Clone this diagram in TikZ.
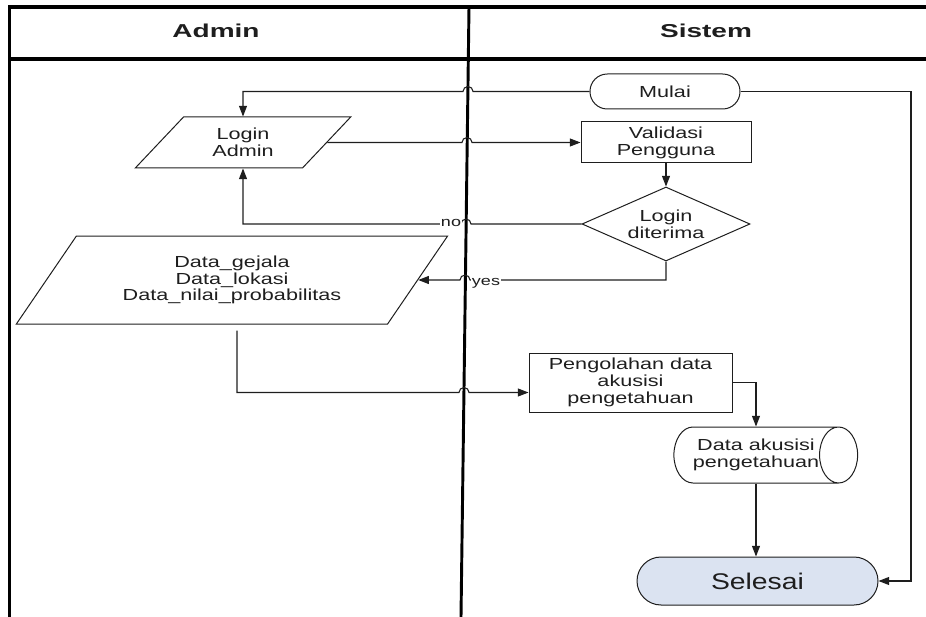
\documentclass[tikz,border=0pt]{standalone}
\usepackage{fontspec}
\setmainfont{Liberation Sans}
\newfontfamily\txtf[FakeStretch=1.35]{Liberation Sans}
\newfontfamily\hdrf[FakeStretch=1.5]{Liberation Sans}
\newfontfamily\self[FakeStretch=1.25]{Liberation Sans}
\usetikzlibrary{shapes.geometric,shapes.misc,arrows.meta,calc}
\definecolor{selfill}{RGB}{219,227,241}
\definecolor{ink}{RGB}{30,30,30}
\begin{document}
\begin{tikzpicture}[x=0.75pt,y=-0.75pt,
  conn/.style={line width=0.8pt, draw=ink},
  arr/.style={conn,-{Triangle[length=8pt,width=6pt]}},
  base/.style={draw=ink, line width=0.75pt, inner sep=0pt, align=center, text=ink,
    font=\txtf\fontsize{12}{12.6}\selectfont},
  term/.style={base, rectangle, rounded corners=13pt, minimum width=112.5pt, minimum height=26.25pt},
  proc/.style={base, rectangle},
  para/.style={base, trapezium, trapezium left angle=49, trapezium right angle=131, trapezium stretches=true},
  dec/.style={base, diamond, aspect=2.27, minimum width=126pt, minimum height=55.5pt},
  store/.style={base, cylinder, shape aspect=1.2, minimum height=136pt, minimum width=42pt},
  hdr/.style={font=\hdrf\bfseries\fontsize{14}{16}\selectfont, text=ink},
  lbl/.style={fill=white, inner sep=0.6pt, text=ink, font=\txtf\fontsize{10}{10}\selectfont}
]
\useasboundingbox (0,0) rectangle (926,617);
% swimlanes
\draw[line width=3pt] (8,7) -- (926,7);
\draw[line width=3pt] (8,59) -- (926,59);
\draw[line width=2pt] (9.5,5.5) -- (9.5,617);
\draw[line width=2.2pt] (469,7) -- (461,617);
\node[hdr] (hA) at (216,31) {Admin};
\node[hdr] (hS) at (706,31) {Sistem};
% nodes
\node[term] (mulai) at (665,91.5) {Mulai};
\node[para, minimum width=162pt, minimum height=38.25pt] (login) at (243,142.5) {Login\\Admin};
\node[proc, minimum width=127.5pt, minimum height=30.75pt] (valid) at (666,142.5) {Validasi\\Pengguna};
\node[dec] (dia) at (666,224) {Login\\diterima};
\node[para, minimum width=324pt, minimum height=66pt] (data) at (232,280) {Data\_gejala\\Data\_lokasi\\Data\_nilai\_probabilitas};
\node[proc, minimum width=152.25pt, minimum height=44.25pt] (olah) at (630.5,382.5) {Pengolahan data\\akusisi\\pengetahuan};
\node[store] (cyl) at (756,455) {Data akusisi\\pengetahuan};
\node[term, fill=selfill, minimum width=180.75pt, minimum height=36pt, rounded corners=18pt,
  font=\self\fontsize{17}{18}\selectfont] (sel) at (757.5,581) {Selesai};
\coordinate (cx) at (756,0);
\coordinate (olahin) at ($(olah.west)+(0,10)$);
% connectors
\draw[arr] (mulai.west) -- (473,0 |- mulai.west) arc[start angle=0,end angle=180,radius=3.75pt]
  -- (login.north |- mulai.west) -- (login.north);
\draw[arr] (login.east) -- (462,0 |- login.east) arc[start angle=180,end angle=0,radius=3.75pt] -- (valid.west);
\draw[arr] (valid.south) -- (dia.north);
\draw[arr] (dia.west) -- (471,0 |- dia.west) arc[start angle=0,end angle=180,radius=3.75pt]
  -- (login.south |- dia.west) -- (login.south);
\node[lbl] (lno) at (451,223) {no};
\draw[arr] (dia.south) |- (470,280) arc[start angle=0,end angle=180,radius=3.75pt] -- (data.east);
\node[lbl] (lyes) at (486,283) {yes};
\draw[arr] ($(data.south)+(5,6)$) |- (459,0 |- olahin) arc[start angle=180,end angle=0,radius=3.75pt] -- (olahin);
\draw[arr] (olah.east) -| (cx |- cyl.north);
\draw[arr] (cx |- cyl.south) -- (cx |- sel.north);
\draw[arr] (mulai.east) -- (911,0 |- mulai.east) |- (sel.east);
\end{tikzpicture}
\end{document}
